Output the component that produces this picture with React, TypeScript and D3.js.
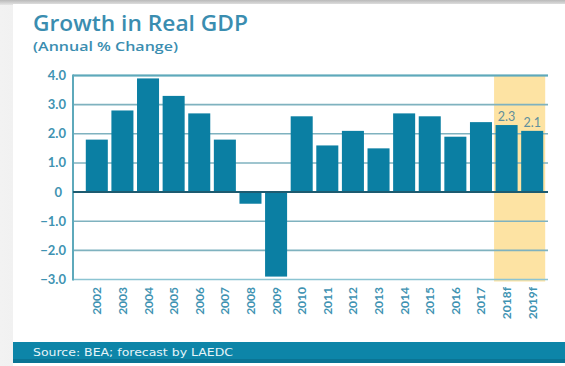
import React from "react";
import * as d3 from "d3";

const years = ["2002","2003","2004","2005","2006","2007","2008","2009","2010","2011","2012","2013","2014","2015","2016","2017","2018f","2019f"];
const growth = [1.8, 2.8, 3.9, 3.3, 2.7, 1.8, -0.4, -2.9, 2.6, 1.6, 2.1, 1.5, 2.7, 2.6, 1.9, 2.4, 2.3, 2.1];
const forecastYears = ["2018f", "2019f"];
const labelledYears = ["2018f", "2019f"];
const yTicks = [4, 3, 2, 1, 0, -1, -2, -3];
const title = "Growth in Real GDP";
const subtitle = "(Annual % Change)";
const source = "Source: BEA; forecast by LAEDC";

const W = 565, H = 366;
const TEAL = "#0b7fa3";
const LABEL = "#3f93b2";
const FONT = "Lato, 'Open Sans', sans-serif";

export default function App() {
  const x = d3.scaleBand<string>().domain(years).range([84, 545]).paddingInner(0.14).paddingOuter(0.07);
  const y = d3.scaleLinear().domain([-3, 4]).range([279.5, 75.5]);
  const bw = x.bandwidth();
  const fx0 = (x(forecastYears[0]) ?? 0) - 1.5;
  const fx1 = (x(forecastYears[forecastYears.length - 1]) ?? 0) + bw + 2;
  const fmt = (v: number) => (v === 0 ? "0" : d3.format(".1f")(v));
  return (
    <svg width={W} height={H} style={{ position: "absolute", left: 0, top: 0 }} fontFamily={FONT}>
      <defs>
        <linearGradient id="bgTop" x1="0" y1="0" x2="0" y2="1">
          <stop offset="0" stopColor="#b9b9b9" />
          <stop offset="1" stopColor="#e6e6e6" />
        </linearGradient>
        <linearGradient id="bgLeft" x1="0" y1="0" x2="1" y2="0">
          <stop offset="0" stopColor="#f2f2f2" />
          <stop offset="1" stopColor="#c8c8c8" />
        </linearGradient>
      </defs>
      <rect x={0} y={0} width={W} height={H} fill="url(#bgLeft)" />
      <rect x={0} y={0} width={W} height={5} fill="url(#bgTop)" />
      <rect x={13} y={4} width={W - 13} height={H - 4} fill="#ffffff" />
      <text x={33} y={31} fontSize={22} fill="#3a8db0" fontWeight={600} fontFamily="'Open Sans', sans-serif" textLength={215} lengthAdjust="spacingAndGlyphs">{title}</text>
      <text x={33} y={51} fontSize={12.5} fill="#3a8db0" fontWeight={600} fontFamily="'Open Sans', sans-serif" textLength={145} lengthAdjust="spacingAndGlyphs">{subtitle}</text>
      {/* forecast shading */}
      <rect x={fx0} y={y(4)} width={fx1 - fx0} height={y(-3) - y(4) + 2} fill="#fde3a3" />
      {/* gridlines */}
      {yTicks.filter(t => t !== 0 && t !== -3).map(t => (
        <line key={t} x1={73} x2={548} y1={y(t)} y2={y(t)} stroke="#7fb2bf" strokeWidth={1.6} />
      ))}
      <line x1={73} x2={548} y1={y(4)} y2={y(4)} stroke="#5ea9bb" strokeWidth={2} />
      <line x1={73} x2={548} y1={y(-3)} y2={y(-3)} stroke="#8cc4d2" strokeWidth={1.6} />
      {/* bars */}
      {years.map((yr, i) => {
        const v = growth[i];
        return (
          <rect key={yr} x={x(yr)} width={bw} y={y(Math.max(0, v))} height={Math.abs(y(v) - y(0))} fill={TEAL} />
        );
      })}
      {/* axes */}
      <line x1={73} x2={73} y1={y(4) - 1} y2={y(-3) + 1} stroke="#5ea9bb" strokeWidth={2} />
      <line x1={73} x2={548} y1={y(0)} y2={y(0)} stroke="#1d5b70" strokeWidth={2} />
      {yTicks.map(t => (
        <text key={t} x={t === 0 ? 62 : 66} y={y(t) + 4.5} fontSize={13} fontWeight={700} fill={LABEL} textAnchor="end">{fmt(t)}</text>
      ))}
      {years.map(yr => (
        <text key={yr} transform={`translate(${(x(yr) ?? 0) + bw / 2 + 4.5},287) rotate(-90)`} fontSize={12} fontWeight={700} fill={LABEL} textAnchor="end">{yr}</text>
      ))}
      {labelledYears.map(yr => {
        const v = growth[years.indexOf(yr)];
        return (
          <text key={yr} x={(x(yr) ?? 0) + bw / 2} y={y(v) - 4} fontSize={12.5} fill="#5f8f9c" textAnchor="middle">{d3.format(".1f")(v)}</text>
        );
      })}
      {/* footer */}
      <rect x={13} y={342} width={W - 13} height={21} fill="#0d85a8" />
      <rect x={13} y={359} width={W - 13} height={4} fill="#0a7494" />
      <text x={33} y={356} fontSize={11} fill="#e6f4f8" fontFamily="'DejaVu Sans', sans-serif" textLength={200} lengthAdjust="spacingAndGlyphs">{source}</text>
    </svg>
  );
}
